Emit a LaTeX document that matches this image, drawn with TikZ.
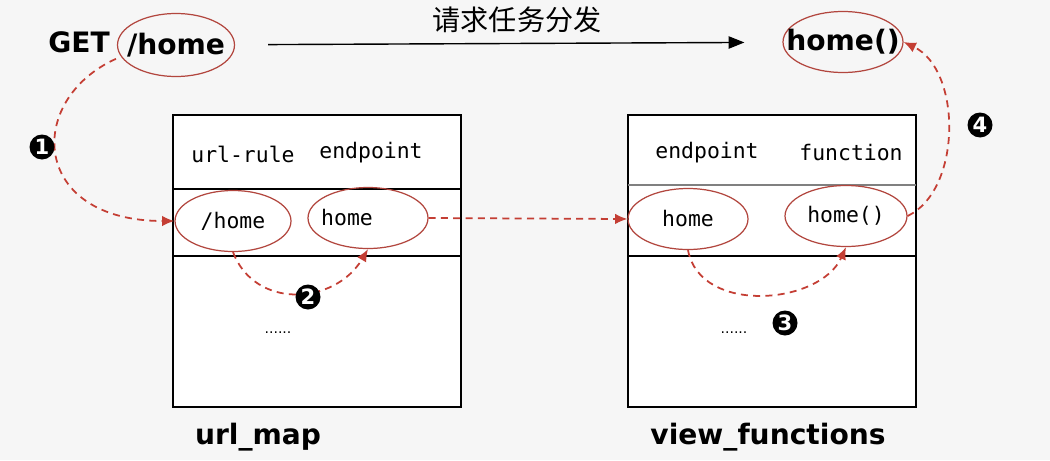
\documentclass[tikz,border=0pt]{standalone}
\usepackage{fontspec}
\setmainfont{DejaVu Sans}
\setmonofont{DejaVu Sans Mono}
\newfontfamily\cjk{Noto Sans CJK SC}
\usetikzlibrary{arrows.meta, shapes.geometric}
\definecolor{flowred}{RGB}{196,62,52}
\definecolor{ovalred}{RGB}{178,70,62}
\definecolor{pagegray}{RGB}{246,246,246}

\begin{document}
\begin{tikzpicture}[x=0.02cm, y=-0.02cm,
  title/.style={font=\bfseries\fontsize{16}{19}\selectfont},
  cell/.style={font=\ttfamily\fontsize{12.2}{14}\selectfont},
  oval/.style={ellipse, draw=ovalred, line width=0.7pt, inner sep=0pt,
    minimum width=2.4cm, minimum height=1.22cm},
  flow/.style={flowred, dash pattern=on 4pt off 3pt, line width=1pt,
    -{Latex[length=7pt,width=6pt]}},
  badge/.style={circle, fill=black, text=white, inner sep=0pt,
    minimum size=0.5cm, font=\bfseries\fontsize{12}{12}\selectfont}]
  % Page
  \fill[pagegray] (0,0) rectangle (1050,460);
  \useasboundingbox (0,0) rectangle (1050,460);
  % Request and handler
  \node[title] (get) at (79,42) {GET};
  \node[oval, minimum width=2.34cm, minimum height=1.26cm,
    label={[title]center:/home}] (path) at (176,45) {};
  \node[oval, label={[title]center:home()}] (func) at (843,42) {};
  \draw[-{Triangle[length=9pt,width=7pt]}, line width=0.8pt,
    shorten <=0.66cm, shorten >=0.76cm] (path) -- (func);
  \node[font=\cjk\fontsize{16}{18}\selectfont] (req) at (517,20) {请求任务分发};
  % url_map table
  \draw[line width=1pt, fill=white] (173,115) rectangle (461,407);
  \draw[line width=1pt] (173,189) -- (461,189);
  \draw[line width=1pt] (173,256) -- (461,256);
  \node[cell] (rule) at (243,154) {url-rule};
  \node[cell] (ep1) at (371,153) {endpoint};
  \node[oval, minimum width=2.32cm, label={[cell]center:/home}] (rule1) at (233,221) {};
  \node[oval, label={[cell, xshift=-0.42cm]center:home}] (ep1a) at (368,218) {};
  \node[font=\fontsize{8}{8}\selectfont] (more1) at (278,333) {......};
  \node[title] (urlmap) at (258,437) {url\_map};
  % view_functions table
  \draw[line width=1pt, fill=white] (628,115) rectangle (916,407);
  \draw[line width=1.6pt, gray] (628,185) -- (916,185);
  \draw[line width=1pt] (628,256) -- (916,256);
  \node[cell] (ep2) at (707,153) {endpoint};
  \node[cell] (fn) at (851,153) {function};
  \node[oval, label={[cell]center:home}] (ep2a) at (688,219) {};
  \node[oval, minimum width=2.44cm, label={[cell]center:home()}] (fn2) at (846,216) {};
  \node[font=\fontsize{8}{8}\selectfont] (more2) at (734,333) {......};
  \node[title] (viewfn) at (768,437) {view\_functions};
  % Steps
  \draw[flow] (get.south east) .. controls (25,100) and (30,221) .. (rule1.west);
  \draw[flow] (rule1.south) .. controls (255,310) and (335,305) .. (ep1a.south);
  \draw[flow] (ep1a.east) -- (ep2a.west);
  \draw[flow] (ep2a.south) .. controls (700,315) and (820,305) .. (fn2.south);
  \draw[flow] (fn2.east) .. controls (962,190) and (962,70) .. (func.east);
  \node[badge] (s1) at (42,147) {1};
  \node[badge] (s2) at (308,297) {2};
  \node[badge] (s3) at (785,323) {3};
  \node[badge] (s4) at (980,125) {4};
\end{tikzpicture}
\end{document}
